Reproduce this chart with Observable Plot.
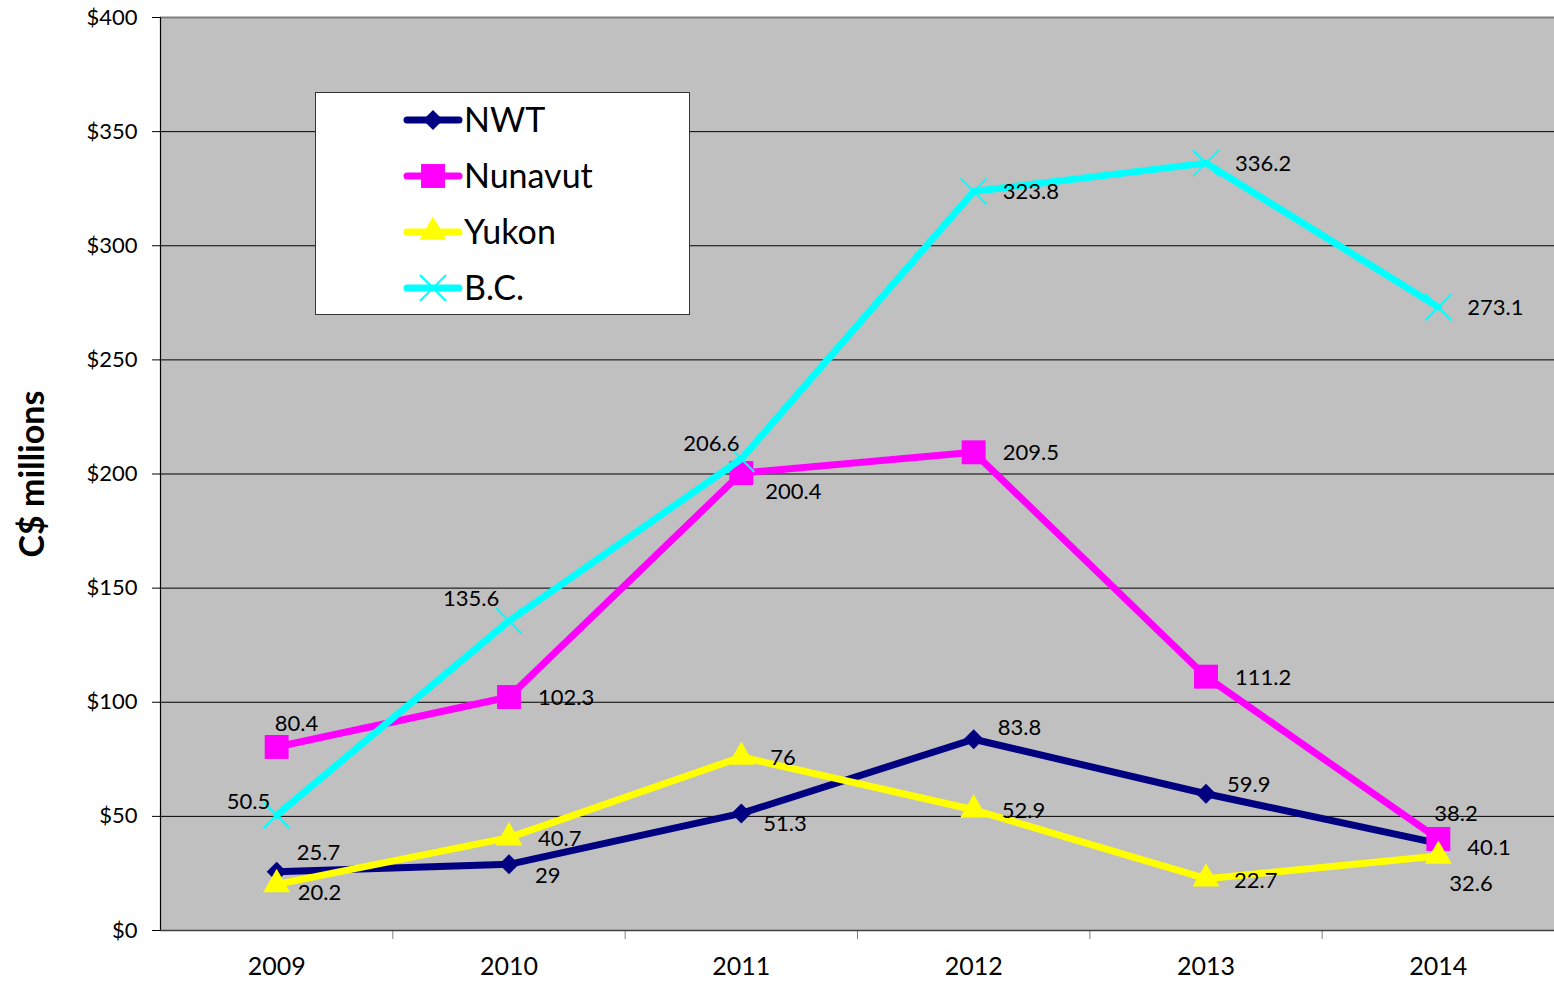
<!DOCTYPE html>
<html>
<head>
<meta charset="utf-8">
<script src="https://cdn.jsdelivr.net/npm/d3@7"></script>
<script src="https://cdn.jsdelivr.net/npm/@observablehq/plot@0.6"></script>
<style>
  html, body { margin: 0; padding: 0; background: #fff; }
  #wrap { position: relative; width: 1554px; height: 983px; font-family: Lato, "Open Sans", sans-serif; }
  #legend { position: absolute; left: 315px; top: 92px; width: 373px; height: 221px; background: #fff; border: 1.5px solid #333; }
</style>
</head>
<body>
<div id="wrap"></div>
<script>
// ---- data ----
const years = [2009, 2010, 2011, 2012, 2013, 2014];
const nwt = [25.7, 29, 51.3, 83.8, 59.9, 38.2];
const nunavut = [80.4, 102.3, 200.4, 209.5, 111.2, 40.1];
const yukon = [20.2, 40.7, 76, 52.9, 22.7, 32.6];
const bc = [50.5, 135.6, 206.6, 323.8, 336.2, 273.1];
const seriesNames = ["NWT", "Nunavut", "Yukon", "B.C."];
const yTicks = [0, 50, 100, 150, 200, 250, 300, 350, 400];
const yTitle = "C$ millions";

// ---- styles ----
const seriesValues = [nwt, nunavut, yukon, bc];
const colors = ["#000080", "#ff00ff", "#ffff00", "#00ffff"];
const symbols = ["diamond2", "square", "triangle", "times"];
const radii = [9, 13.5, 10, 11.9];
// label offsets (dx, dy) per series per year
const labelOffsets = [
  [[20,-19],[26,12],[22,11],[24,-11],[21,-9],[-4,-29]],
  [[-2,-23],[29,1],[24,19],[29,1],[29,1],[29,9]],
  [[21,9],[29,1],[29,1],[28,1],[28,2],[11,28]],
  [[-50,-13],[-66,-22],[-58,-15],[29,1],[29,1],[29,1]]
];

const rows = seriesNames.flatMap((s, i) => years.map((yr, j) => ({series: s, si: i, year: yr, value: seriesValues[i][j], j})));

const marks = [
  Plot.frame({fill: "#c0c0c0", stroke: "none"}),
  Plot.ruleY(yTicks.slice(1, -1), {stroke: "#000", strokeWidth: 1}),
  Plot.ruleY([400], {stroke: "#808080", strokeWidth: 2}),
  Plot.axisY({ticks: yTicks, tickFormat: d => "$" + d, tickSize: 8, tickPadding: 15, fontSize: 22, label: null, stroke: "#000"}),
  Plot.axisX({ticks: years.slice(0, -1).map(y => y + 0.5), tickFormat: () => "", tickSize: 9, stroke: "#808080", label: null}),
  Plot.axisX({ticks: years, tickFormat: d => String(d), tickSize: 0, tickPadding: 27, fontSize: 25, label: null}),
  Plot.ruleX([2008.5], {stroke: "#000", strokeWidth: 1.2}),
  Plot.ruleY([0], {stroke: "#404040", strokeWidth: 1.5}),
  Plot.text([yTitle], {frameAnchor: "left", dx: -127, rotate: -90, textAnchor: "middle", fontSize: 34, fontWeight: "bold", fill: "#000"})
];

seriesNames.forEach((s, i) => {
  const d = rows.filter(r => r.si === i);
  marks.push(Plot.line(d, {x: "year", y: "value", stroke: colors[i], strokeWidth: 7, strokeLinecap: "round", strokeLinejoin: "round"}));
  if (symbols[i] === "times") {
    marks.push(Plot.dot(d, {x: "year", y: "value", symbol: symbols[i], r: radii[i], stroke: colors[i], strokeWidth: 2, fill: "none"}));
  } else {
    marks.push(Plot.dot(d, {x: "year", y: "value", symbol: symbols[i], r: radii[i], fill: colors[i], stroke: "none"}));
  }
});

rows.forEach(r => {
  const [dx, dy] = labelOffsets[r.si][r.j];
  marks.push(Plot.text([r], {x: "year", y: "value", text: d => String(d.value), dx, dy, textAnchor: "start", fontSize: 22, fill: "#000"}));
});

const chart = Plot.plot({
  width: 1554, height: 983,
  marginLeft: 160, marginRight: 0, marginTop: 17, marginBottom: 53,
  style: {fontFamily: "Lato, 'Open Sans', sans-serif", background: "#fff", color: "#000", overflow: "visible"},
  x: {type: "linear", domain: [2008.5, 2014.5]},
  y: {domain: [0, 400]},
  marks
});
const wrap = document.getElementById("wrap");
wrap.appendChild(chart);

// ---- legend ----
const legend = document.createElement("div");
legend.id = "legend";
const ns = "http://www.w3.org/2000/svg";
const lsvg = document.createElementNS(ns, "svg");
lsvg.setAttribute("width", 373); lsvg.setAttribute("height", 221);
const rowY = [27, 83, 139, 195];
seriesNames.forEach((s, i) => {
  const g = document.createElementNS(ns, "g");
  g.setAttribute("transform", `translate(0,${rowY[i]})`);
  const line = document.createElementNS(ns, "line");
  line.setAttribute("x1", 91); line.setAttribute("x2", 143);
  line.setAttribute("stroke", colors[i]); line.setAttribute("stroke-width", 7); line.setAttribute("stroke-linecap", "round");
  g.appendChild(line);
  const symMap = {diamond2: d3.symbolDiamond2, square: d3.symbolSquare, triangle: d3.symbolTriangle, times: d3.symbolTimes};
  const p = document.createElementNS(ns, "path");
  p.setAttribute("d", d3.symbol(symMap[symbols[i]], Math.PI * radii[i] * radii[i])());
  p.setAttribute("transform", "translate(117,0)");
  if (symbols[i] === "times") { p.setAttribute("fill", "none"); p.setAttribute("stroke", colors[i]); p.setAttribute("stroke-width", 2); }
  else p.setAttribute("fill", colors[i]);
  g.appendChild(p);
  const t = document.createElementNS(ns, "text");
  t.setAttribute("x", 148); t.setAttribute("y", 0); t.setAttribute("dy", "0.36em");
  t.setAttribute("font-size", 34); t.setAttribute("font-family", "Lato, 'Open Sans', sans-serif"); t.setAttribute("fill", "#000");
  t.textContent = s;
  g.appendChild(t);
  lsvg.appendChild(g);
});
legend.appendChild(lsvg);
wrap.appendChild(legend);
</script>
</body>
</html>
